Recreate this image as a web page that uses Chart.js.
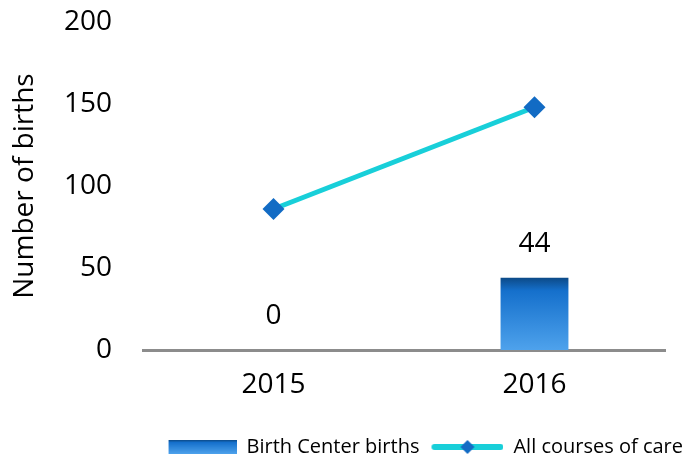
<!DOCTYPE html>
<html>
<head>
<meta charset="utf-8">
<script src="https://cdn.jsdelivr.net/npm/chart.js@4/dist/chart.umd.min.js"></script>
<style>
  body { margin: 0; background: #fff; }
  #births-chart { display: block; }
</style>
</head>
<body>
<canvas id="births-chart" width="687" height="460"></canvas>
<script>
////// Data
let years = ['2015', '2016'];
let birth_center_births = [0, 44];
let all_courses_of_care = [86, 148];
let y_ticks = [0, 50, 100, 150, 200];

let font_family = '"Open Sans", "Noto Sans", sans-serif';
let line_color = '#18CFD9';
let marker_color = '#126BC4';

// gradient for the bars (dark at top, lighter at bottom)
function barGradient(ctx2d, top, bottom) {
    let g = ctx2d.createLinearGradient(0, top, 0, bottom);
    g.addColorStop(0, '#0C4A88');
    g.addColorStop(0.18, '#1570CC');
    g.addColorStop(1, '#4EA2EC');
    return g;
}

// little pictures used as legend symbols (same width, drawn right-aligned)
function barSymbol() {
    let c = document.createElement('canvas');
    c.width = 80; c.height = 14;
    let x = c.getContext('2d');
    x.fillStyle = barGradient(x, 0, 14);
    x.fillRect(12, 0, 68, 14);
    return c;
}
function lineSymbol() {
    let c = document.createElement('canvas');
    c.width = 80; c.height = 16;
    let x = c.getContext('2d');
    x.strokeStyle = line_color;
    x.lineWidth = 6;
    x.lineCap = 'round';
    x.beginPath(); x.moveTo(11, 8); x.lineTo(77, 8); x.stroke();
    x.fillStyle = marker_color;
    x.beginPath();
    x.moveTo(44, 1); x.lineTo(51, 8); x.lineTo(44, 15); x.lineTo(37, 8);
    x.closePath(); x.fill();
    return c;
}

// write bar values above the bars
let barValues = {
    id: 'barValues',
    afterDatasetsDraw(chart) {
        let ctx = chart.ctx;
        let meta = chart.getDatasetMeta(0);
        ctx.save();
        ctx.font = '28px ' + font_family;
        ctx.fillStyle = '#000';
        ctx.textAlign = 'center';
        ctx.textBaseline = 'middle';
        meta.data.forEach(function (bar, i) {
            ctx.fillText(birth_center_births[i], bar.x, bar.y - 34);
        });
        ctx.restore();
    }
};

let canvas = document.getElementById('births-chart').getContext('2d');

let chart = new Chart(canvas, {
    data: {
        labels: years,
        datasets: [{
            type: 'bar',
            label: 'Birth Center births',
            data: birth_center_births,
            backgroundColor: function (context) {
                let c = context.chart;
                if (!c.chartArea) return '#1570CC';
                let y = c.scales.y;
                let top = y.getPixelForValue(context.raw || 0);
                let bottom = y.getPixelForValue(0);
                if (bottom - top < 1) return '#1570CC';
                return barGradient(c.ctx, top, bottom);
            },
            barPercentage: 0.26,
            categoryPercentage: 1,
            order: 2
        }, {
            type: 'line',
            label: 'All courses of care',
            data: all_courses_of_care,
            borderColor: line_color,
            borderWidth: 5,
            pointStyle: 'rectRot',
            pointRadius: 11,
            pointHoverRadius: 11,
            pointBackgroundColor: marker_color,
            pointBorderColor: marker_color,
            pointBorderWidth: 0,
            order: 1
        }]
    },
    options: {
        responsive: false,
        animation: false,
        layout: { autoPadding: false, padding: { left: 8, right: 0, top: 22, bottom: -7 } },
        scales: {
            x: {
                grid: { display: false, drawTicks: false },
                border: { color: '#8C8C8C', width: 3 },
                ticks: { color: '#000', padding: 18, font: { size: 28, family: font_family } },
                afterFit: function (axis) { axis.height = 83; }
            },
            y: {
                min: 0,
                max: 200,
                afterBuildTicks: function (axis) {
                    axis.ticks = y_ticks.map(v => ({ value: v }));
                },
                grid: { display: false, drawTicks: false },
                border: { display: false },
                ticks: { color: '#000', padding: 31, font: { size: 28, family: font_family } },
                title: {
                    display: true,
                    text: 'Number of births',
                    color: '#000',
                    padding: { top: 0, bottom: 0 },
                    font: { size: 28, family: font_family }
                },
                afterFit: function (axis) {
                    axis.width = 135;
                    // tick padding should not push the plot down from the top
                    axis.paddingTop = 16;
                    axis.paddingBottom = 16;
                }
            },
            // empty axis on the right, only keeps the plot away from the edge
            yRight: {
                position: 'right',
                display: true,
                grid: { display: false, drawTicks: false },
                border: { display: false },
                ticks: { display: false },
                afterFit: function (axis) { axis.width = 22; }
            }
        },
        plugins: {
            tooltip: { enabled: false },
            legend: {
                position: 'bottom',
                align: 'end',
                labels: {
                    usePointStyle: true,
                    pointStyleWidth: 80,
                    padding: 4,
                    color: '#000',
                    font: { size: 20, family: font_family },
                    generateLabels: function (c) {
                        let symbols = [barSymbol(), lineSymbol()];
                        return c.data.datasets.map(function (ds, i) {
                            return {
                                text: ds.label,
                                pointStyle: symbols[i],
                                datasetIndex: i,
                                hidden: false,
                                lineWidth: 0,
                                fontColor: '#000'
                            };
                        });
                    }
                }
            }
        }
    },
    plugins: [barValues]
});
</script>
</body>
</html>
